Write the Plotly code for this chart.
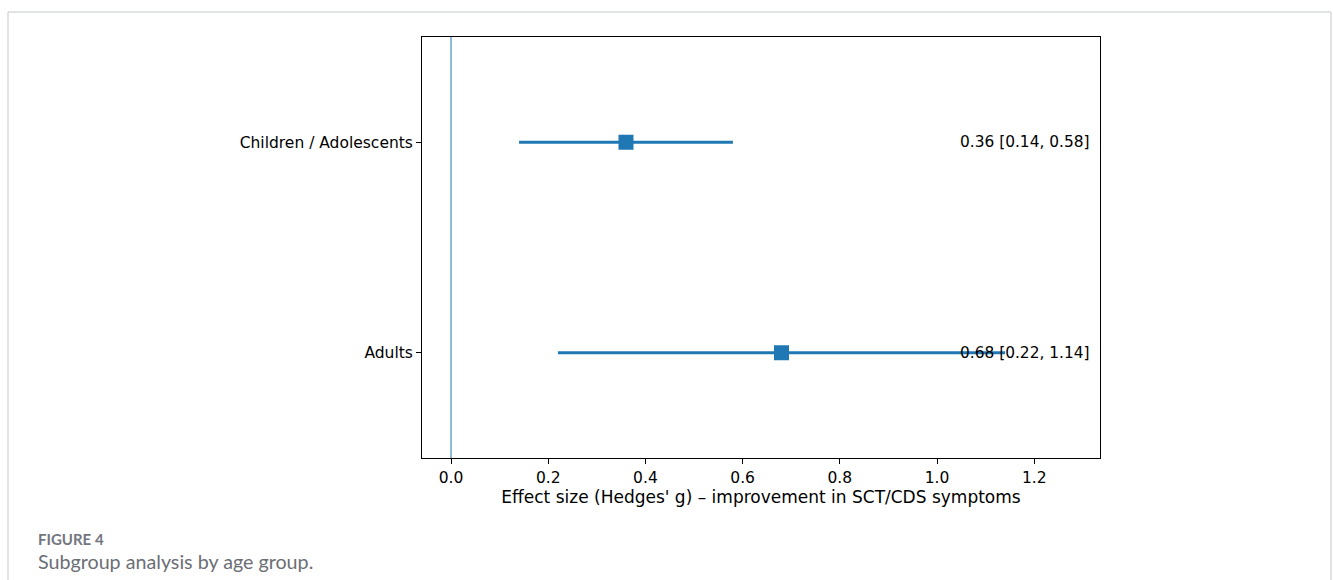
import plotly.graph_objects as go

groups = ["Children / Adolescents", "Adults"]
effects = [0.36, 0.68]
ci_low = [0.14, 0.22]
ci_high = [0.58, 1.14]
ypos = [1, 0]
x_ticks = [0.0, 0.2, 0.4, 0.6, 0.8, 1.0, 1.2]

W, H = 1333, 580
L, R, T, B = 422, 1100, 37, 458
BLUE = "#1f77b4"
FONT = "DejaVu Sans"

fig = go.Figure()

# reference line at 0
fig.add_shape(type="line", xref="x", yref="paper", x0=0, x1=0, y0=0, y1=1,
              line=dict(color=BLUE, width=1), layer="below")

fig.add_trace(go.Scatter(
    x=effects, y=ypos, mode="markers",
    marker=dict(symbol="square", size=15, color=BLUE),
    error_x=dict(type="data", symmetric=False,
                 array=[h - e for h, e in zip(ci_high, effects)],
                 arrayminus=[e - l for e, l in zip(effects, ci_low)],
                 color=BLUE, thickness=3, width=0),
    showlegend=False, hoverinfo="skip"))

for e, lo, hi, y in zip(effects, ci_low, ci_high, ypos):
    fig.add_annotation(x=1.05, y=y, xref="x", yref="y", xanchor="left", yanchor="middle",
                       xshift=-3,
                       text=f"{e:.2f} [{lo:.2f}, {hi:.2f}]", showarrow=False,
                       font=dict(family=FONT, size=15.4, color="black"))

def px_to_paper_x(px):
    return (px - L) / (R - L)

def px_to_paper_y(py):
    return (B - py) / (B - T)

# card border
border = dict(color="#c4c7cc", width=1)
fig.add_shape(type="line", xref="paper", yref="paper",
              x0=px_to_paper_x(8), x1=px_to_paper_x(1331), y0=px_to_paper_y(12), y1=px_to_paper_y(12), line=border)
fig.add_shape(type="line", xref="paper", yref="paper",
              x0=px_to_paper_x(8), x1=px_to_paper_x(8), y0=px_to_paper_y(12), y1=px_to_paper_y(600), line=border)
fig.add_shape(type="line", xref="paper", yref="paper",
              x0=px_to_paper_x(1331), x1=px_to_paper_x(1331), y0=px_to_paper_y(12), y1=px_to_paper_y(600), line=border)

# caption
fig.add_annotation(xref="paper", yref="paper", x=px_to_paper_x(36), y=px_to_paper_y(539),
                   xanchor="left", yanchor="middle", showarrow=False, text="<b>FIGURE 4</b>",
                   font=dict(family="Lato", size=15, color="#737680"))
fig.add_annotation(xref="paper", yref="paper", x=px_to_paper_x(36), y=px_to_paper_y(561),
                   xanchor="left", yanchor="middle", showarrow=False, text="Subgroup analysis by age group.",
                   font=dict(family="Lato", size=19.7, color="#6b6e75"))

fig.update_layout(
    width=W, height=H,
    margin=dict(l=L, r=W - R, t=T, b=H - B),
    paper_bgcolor="white", plot_bgcolor="white",
    font=dict(family=FONT, size=15.5, color="black"),
    xaxis=dict(range=[-0.0597, 1.3353], tickvals=x_ticks,
               ticktext=[f"{v:.1f}" for v in x_ticks],
               ticks="outside", ticklen=5, tickwidth=1, tickcolor="black",
               showline=True, linecolor="black", linewidth=1, mirror=True,
               showgrid=False, zeroline=False,
               title=dict(text="Effect size (Hedges' g) – improvement in SCT/CDS symptoms",
                          font=dict(family=FONT, size=17), standoff=4)),
    yaxis=dict(range=[-0.5, 1.5], tickvals=ypos, ticktext=groups,
               ticks="outside", ticklen=5, tickwidth=1, tickcolor="black",
               showline=True, linecolor="black", linewidth=1, mirror=True,
               showgrid=False, zeroline=False),
)

fig.write_html("out.html")
